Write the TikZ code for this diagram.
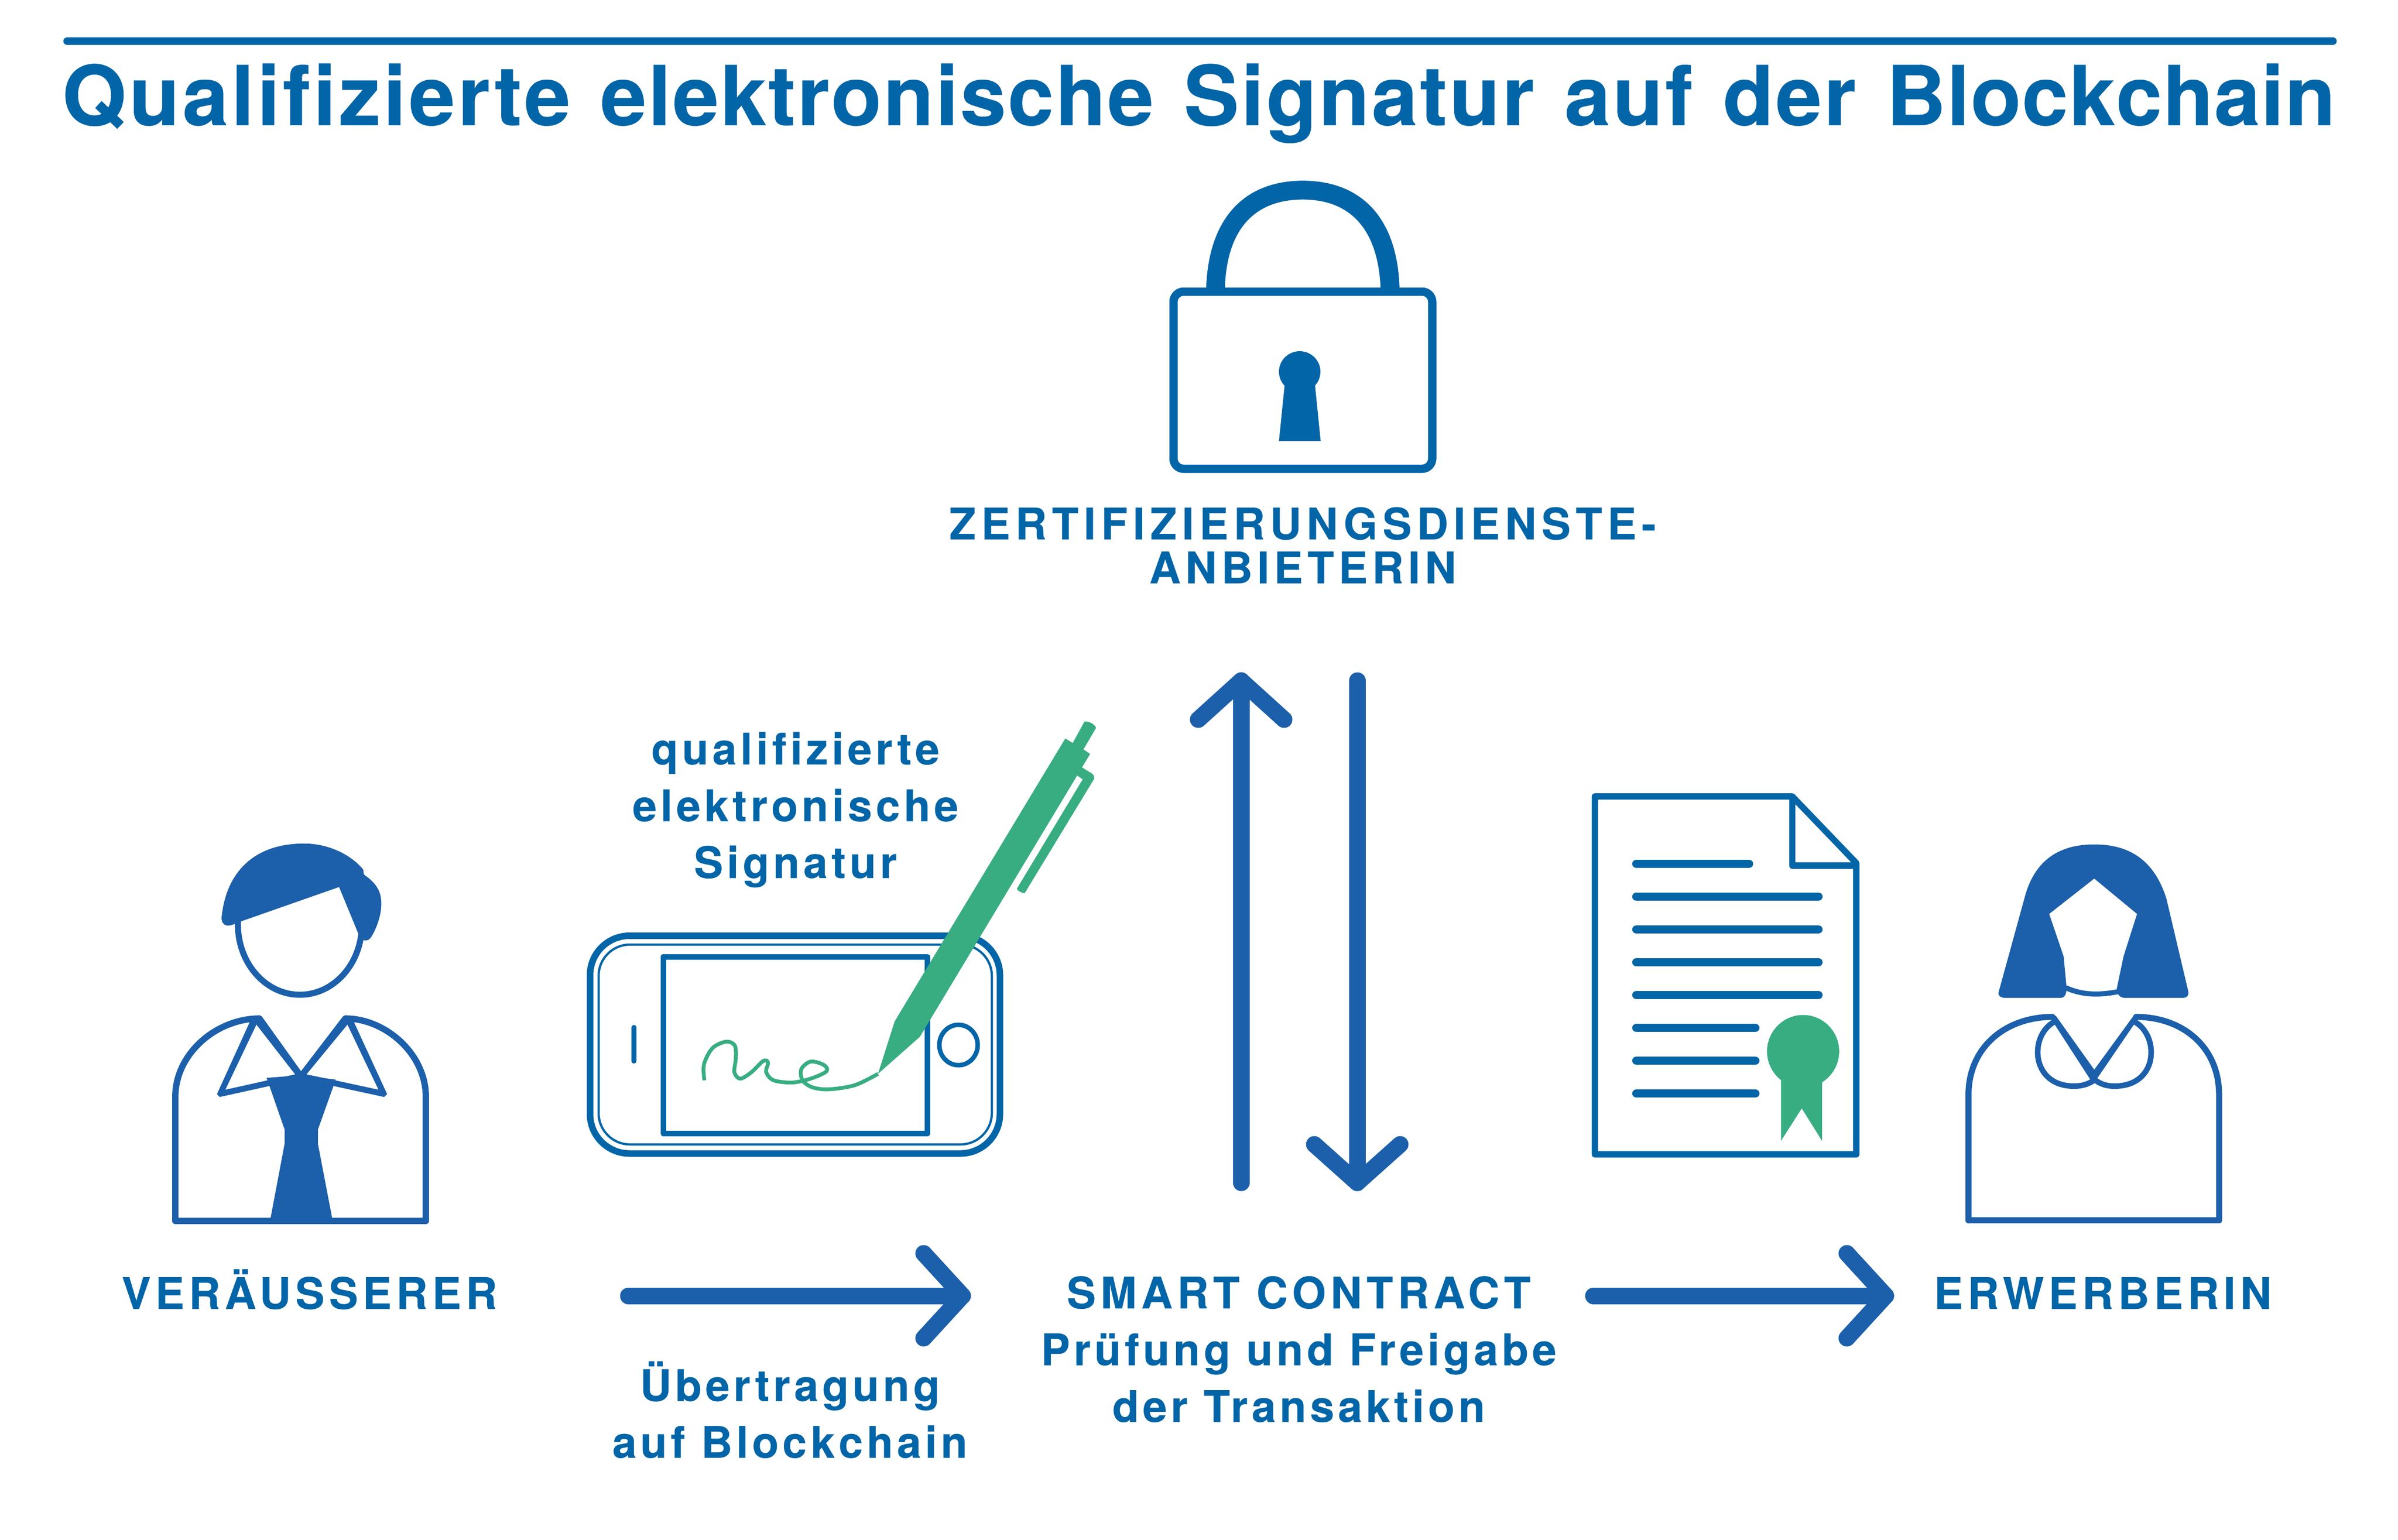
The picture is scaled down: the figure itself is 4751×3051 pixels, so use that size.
\documentclass[tikz,border=0pt]{standalone}
\usepackage{fontspec}
\setmainfont{TeX Gyre Heros}
\newfontfamily\lblf[LetterSpace=10.5,Ligatures=CommonOff,BoldFeatures={FakeBold=0.25}]{TeX Gyre Heros}
\newfontfamily\lblg[LetterSpace=12,Ligatures=CommonOff,BoldFeatures={FakeBold=0.25}]{TeX Gyre Heros}
\newfontfamily\lbls[LetterSpace=8.7,Ligatures=CommonOff,BoldFeatures={FakeBold=0.25}]{TeX Gyre Heros}
\newfontfamily\titf[LetterSpace=2.6,WordSpace=1.2,Ligatures=CommonOff,BoldFeatures={FakeBold=0.25}]{TeX Gyre Heros}
\newfontfamily\tita[LetterSpace=3.4,WordSpace=1.2,Ligatures=CommonOff,BoldFeatures={FakeBold=0.25}]{TeX Gyre Heros}
\newfontfamily\titc[LetterSpace=2,WordSpace=1.2,Ligatures=CommonOff,BoldFeatures={FakeBold=0.25}]{TeX Gyre Heros}
\newfontfamily\titb[LetterSpace=1,WordSpace=1.2,Ligatures=CommonOff,BoldFeatures={FakeBold=0.25}]{TeX Gyre Heros}
\definecolor{txtblue}{HTML}{0265A8}
\definecolor{figblue}{HTML}{1C5FAB}
\definecolor{pengreen}{HTML}{38AD82}
\tikzset{
  titlestyle/.style={inner sep=0pt,anchor=base west,text=txtblue,font={\titf\bfseries\fontsize{46.6}{50}\selectfont}},
  lbl/.style={inner sep=0pt,anchor=base,align=center,text=txtblue,font={\lblf\bfseries\fontsize{24.5}{32}\selectfont}},
  lblcaps/.style={lbl,font={\lblf\bfseries\fontsize{24.5}{24.75}\selectfont}},
  bigarrow/.style={draw=figblue,line width=.33cm,line cap=round,line join=round},
  figline/.style={draw=figblue,line join=round,line cap=round},
  blueline/.style={draw=txtblue,line join=round},
  z1/.style={shift={(250,1600)},xscale=.4464,yscale=.574},
  z2/.style={shift={(1100,1350)},xscale=.7334,yscale=.6378},
  z3/.style={shift={(3100,1500)},xscale=.8929,yscale=.6378},
  z4/.style={shift={(2250,320)},xscale=.4464,yscale=.4146}
}
\newcommand{\lowline}[1]{{\lbls\bfseries\fontsize{24.5}{32}\selectfont #1}}
\newcommand{\titw}[2]{{#1\bfseries\fontsize{46.6}{50}\selectfont #2}}
\begin{document}
\begin{tikzpicture}[x=.01cm,y=-.01cm]
\useasboundingbox[fill=white] (0,0) rectangle (4751,3051);
% title
\coordinate (ruleL) at (133,81.5);
\coordinate (ruleR) at (4622,81.5);
\draw[draw=txtblue,line width=.15cm,line cap=round] (ruleL) -- (ruleR);
\node[titlestyle] (title) at (122,248) {\titw{\tita}{Qualifizierte} \titw{\titc}{elektronische} Signatur auf der \titw{\titb}{Blockchain}};
% lock
\begin{scope}[z4]
\fill[txtblue] (313,603) .. controls (325,250) and (500,92) .. (742,92) .. controls (985,92) and (1160,250) .. (1171,603) -- (1087,603) .. controls (1075,320) and (950,182) .. (742,182) .. controls (530,182) and (405,320) .. (396,603) -- cycle;
\fill[txtblue] (728,1005) ellipse (92 and 98);
\fill[txtblue] (662,1060) -- (795,1060) -- (821,1336) -- (636,1336) -- cycle;
\end{scope}
\draw[blueline,line width=.165cm,rounded corners=.2cm] (2325,578) rectangle (2837.5,929);
\node[lblcaps] (zda) at (2581,1156) {{\lblg\bfseries ZERTIFIZIERUNGSDIENSTE-}\\ANBIETERIN};
% vertical arrows
\coordinate (upS) at (2459,2344); \coordinate (upT) at (2459,1349);
\coordinate (upL) at (2374,1426); \coordinate (upR) at (2544,1426);
\draw[bigarrow] (upS) -- (upT);
\draw[bigarrow] (upL) -- (upT) -- (upR);
\coordinate (dnS) at (2689,1349); \coordinate (dnT) at (2689,2344);
\coordinate (dnL) at (2604,2268); \coordinate (dnR) at (2774,2268);
\draw[bigarrow] (dnS) -- (dnT);
\draw[bigarrow] (dnL) -- (dnT) -- (dnR);
% horizontal arrows
\coordinate (a1S) at (1245,2568); \coordinate (a1T) at (1907,2568);
\coordinate (a1U) at (1830,2484); \coordinate (a1D) at (1830,2652);
\draw[bigarrow] (a1S) -- (a1T);
\draw[bigarrow] (a1U) -- (a1T) -- (a1D);
\coordinate (a2S) at (3157,2568); \coordinate (a2T) at (3736,2568);
\coordinate (a2U) at (3659,2484); \coordinate (a2D) at (3659,2652);
\draw[bigarrow] (a2S) -- (a2T);
\draw[bigarrow] (a2U) -- (a2T) -- (a2D);
% man
\begin{scope}[z1]
\draw[figline,line width=.125cm] (590,729) .. controls (400,730) and (218,850) .. (218,1000) -- (218,1428) -- (1330,1428) -- (1330,1000) .. controls (1330,850) and (1150,730) .. (975,729);
\draw[figline,line width=.12cm] (771,405) ellipse (275 and 242);
\fill[figblue] (423,385) .. controls (440,230) and (560,125) .. (790,125) .. controls (900,125) and (1000,165) .. (1052,215) -- (1055,232) .. controls (1110,262) and (1135,290) .. (1132,340) .. controls (1130,385) and (1100,435) .. (1085,450) .. controls (1075,462) and (1050,465) .. (1035,445) -- (945,275) -- (512,393) -- (480,403) .. controls (450,413) and (428,410) .. cycle;
\fill[figblue,even odd rule] (590,718) -- (602,722) -- (777,912) -- (777,925) -- (636,962) -- (415,1000) -- (403,990) -- (552,735) -- cycle
  (578,750) -- (750,922) -- (625,943) -- (440,975) -- cycle;
\fill[figblue,even odd rule] (972,718) -- (962,722) -- (775,912) -- (775,925) -- (920,962) -- (1145,1000) -- (1158,990) -- (1007,735) -- cycle
  (982,750) -- (800,922) -- (930,943) -- (1120,975) -- cycle;
\fill[figblue] (623,934) -- (775,925) -- (930,940) -- (920,962) -- (851,1112) -- (851,1162) -- (917,1430) -- (638,1430) -- (703,1162) -- (703,1112) -- (636,962) -- cycle;
\end{scope}
\node[lbl] (seller) at (613,2594) {VERÄUSSERER};
% phone
\draw[blueline,line width=.13cm,rounded corners=.78cm] (1169,1854.5) rectangle (1981,2286);
\draw[blueline,line width=.045cm,rounded corners=.62cm] (1186,1872) rectangle (1965,2268);
\draw[blueline,line width=.11cm] (1314,1896) rectangle (1837,2246);
\coordinate (spkA) at (1256,2036); \coordinate (spkB) at (1256,2103);
\draw[blueline,line width=.095cm,line cap=round] (spkA) -- (spkB);
\draw[blueline,line width=.09cm] (1899,2071) ellipse (38 and 40);
% pen
\begin{scope}[z2]
\fill[pengreen] (872,1220) -- (917,1057) -- (1378,178) -- (1398,192) -- (1430,125) .. controls (1445,125) and (1458,135) .. (1461,145) -- (1427,212) -- (1445,226) -- (1423,268) -- (1450,287) .. controls (1456,292) and (1457,300) .. (1455,305) -- (1268,659) .. controls (1258,657) and (1250,652) .. (1247,645) -- (1425,305) -- (1410,293) -- (985,1105) -- cycle;
\draw[pengreen,line width=.075cm,line join=round] plot[smooth,tension=.55] coordinates {(403,1240) (402,1190) (425,1140) (462,1120) (485,1132) (488,1170) (484,1215) (500,1235) (530,1215) (562,1180) (575,1185) (570,1215) (590,1240) (640,1247) (690,1235) (733,1212) (725,1192) (690,1182) (665,1205) (668,1240) (695,1262) (740,1268) (810,1255) (872,1220)};
\end{scope}
\node[lbl] (qes) at (1576,1740) {\lowline{qualifizierte}\\\lowline{elektronische}\\\lowline{Signatur}};
% document
\begin{scope}[z3]
\draw[blueline,line width=.125cm,miter limit=3] (67,123) -- (505,123) -- (647,330) -- (647,1235) -- (67,1235) -- cycle;
\draw[blueline,line width=.125cm] (505,125) -- (505,338) -- (647,338);
\foreach \yy/\xe in {332/409,434/563,536/563,638/563,740/563,842/423,944/423,1046/423}{
  \draw[draw=txtblue,line width=.165cm,line cap=round] (159,\yy) -- (\xe,\yy);
}
\fill[pengreen] (529,915) ellipse (80 and 113);
\fill[pengreen] (480,990) -- (480,1193) -- (526,1092) -- (571,1193) -- (571,990) -- cycle;
% woman
\draw[figline,line width=.12cm] (896,1440) -- (896,1050) .. controls (896,900) and (980,808) .. (1082,808);
\draw[figline,line width=.12cm] (1268,808) .. controls (1370,808) and (1452,900) .. (1452,1050) -- (1452,1440) -- (896,1440);
\fill[figblue] (1175,272) .. controls (1090,272) and (1040,330) .. (1020,440) -- (963,730) .. controls (960,742) and (968,749) .. (978,749) -- (1100,749) .. controls (1110,749) and (1115,735) .. (1113,708) -- (1107,620) -- (1075,488) -- (1175,378) -- (1270,488) -- (1240,620) -- (1225,720) .. controls (1226,740) and (1232,749) .. (1245,749) -- (1370,749) .. controls (1382,749) and (1386,740) .. (1383,725) -- (1335,440) .. controls (1310,330) and (1260,272) .. cycle;
\draw[figline,line width=.1cm] (1113,718) .. controls (1145,738) and (1180,742) .. (1226,730);
\fill[figblue] (1075,805) -- (1090,805) -- (1175,972) -- (1262,805) -- (1276,805) -- (1180,1002) -- (1166,1002) -- cycle;
\draw[figline,line width=.11cm] (1084,825) .. controls (1030,870) and (1035,1023) .. (1130,1023) .. controls (1150,1023) and (1165,1015) .. (1176,1003) .. controls (1187,1015) and (1200,1023) .. (1220,1023) .. controls (1317,1023) and (1320,870) .. (1267,825);
\end{scope}
% labels
\node[lbl] (sc) at (2573,2818) {SMART CONTRACT\\\lowline{Prüfung und Freigabe}\\\lowline{der Transaktion}};
\node[lbl] (xfer) at (1565,2889) {\lowline{Übertragung}\\\lowline{auf Blockchain}};
\node[lbl] (buyer) at (4166,2594) {ERWERBERIN};
\end{tikzpicture}
\end{document}
